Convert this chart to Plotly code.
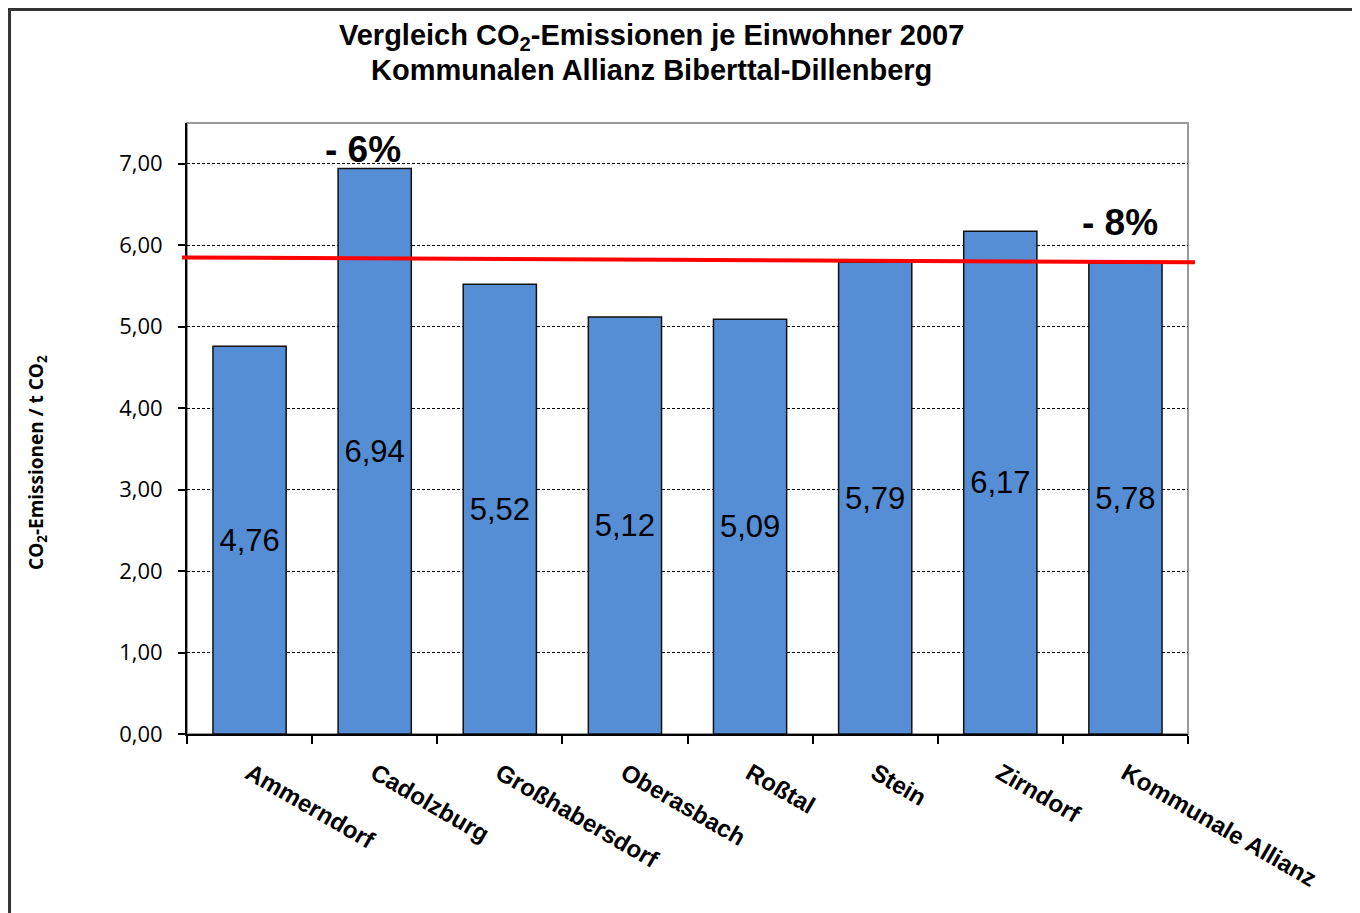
"""Vergleich CO2-Emissionen je Einwohner 2007 - Plotly recreation."""

import plotly.graph_objects as go

# data
municipalities = [
    "Ammerndorf",
    "Cadolzburg",
    "Großhabersdorf",
    "Oberasbach",
    "Roßtal",
    "Stein",
    "Zirndorf",
    "Kommunale Allianz",
]
emissions_per_capita = [4.76, 6.94, 5.52, 5.12, 5.09, 5.79, 6.17, 5.78]

# red reference line (t CO2 at left and right end)
reference_start = 5.85
reference_end = 5.79

# reduction callouts
callout_labels = ["- 6%", "- 8%"]
callout_categories = ["Cadolzburg", "Kommunale Allianz"]
callout_values = [7.18, 6.28]

title_lines = [
    "Vergleich CO<sub>2</sub>-Emissionen je Einwohner 2007",
    "Kommunalen Allianz Biberttal-Dillenberg",
]

BAR_COLOR = "#558ED5"
TEXT_FONT = "Liberation Sans, Arial, sans-serif"
AXIS_FONT = "Open Sans, Noto Sans, sans-serif"

fig = go.Figure()
fig.add_bar(
    x=municipalities,
    y=emissions_per_capita,
    width=0.585,
    marker={"color": BAR_COLOR, "line": {"color": "#111111", "width": 1.5}},
    text=[f"{v:.2f}".replace(".", ",") for v in emissions_per_capita],
    textposition="inside",
    insidetextanchor="middle",
    textangle=0,
    textfont={"family": TEXT_FONT, "size": 31, "color": "#000000"},
    hoverinfo="skip",
)

# plot-area frame (top/right gray) and outer chart border
fig.add_shape(type="rect", xref="paper", yref="paper", x0=0, x1=1, y0=0, y1=1,
              line={"color": "#9A9A9A", "width": 2}, layer="below")
fig.add_shape(type="rect", xref="paper", yref="paper", x0=-0.1773, x1=1.3, y0=-0.5, y1=1.1858,
              line={"color": "#333333", "width": 3}, layer="below")

# red reference line, extending slightly past the plot area
fig.add_shape(type="line", xref="paper", yref="y", x0=-0.005, x1=1.007,
              y0=reference_start, y1=reference_end,
              line={"color": "#FF0000", "width": 4}, layer="above")

for label, cat, val, shift in zip(callout_labels, callout_categories, callout_values, [-12, -5]):
    fig.add_annotation(x=cat, y=val, text=f"<b>{label}</b>", showarrow=False,
                       xshift=shift, font={"family": TEXT_FONT, "size": 37, "color": "#000000"})

# two-line chart title, placed as annotations for tighter line spacing
for line_text, ypos in zip(title_lines, [1.1408, 1.0867]):
    fig.add_annotation(
        x=0.4645, y=ypos, xref="paper", yref="paper", showarrow=False,
        xanchor="center", yanchor="middle",
        text=f"<b>{line_text}</b>",
        font={"family": TEXT_FONT, "size": 29, "color": "#000000"},
    )

fig.add_annotation(
    x=-0.15, y=0.445, xref="paper", yref="paper", textangle=-90, showarrow=False,
    xanchor="center", yanchor="middle",
    text="<b>CO<sub>2</sub>-Emissionen / t CO<sub>2</sub></b>",
    font={"family": AXIS_FONT, "size": 19, "color": "#000000"},
)

# page body adds an 8px offset, so margins are shifted to compensate
fig.update_layout(
    width=1360,
    height=913,
    paper_bgcolor="white",
    plot_bgcolor="white",
    separators=", ",
    showlegend=False,
    margin={"l": 179, "r": 180, "t": 115, "b": 187, "autoexpand": False},
)
fig.update_xaxes(
    showline=True,
    linecolor="#000000",
    linewidth=2,
    ticks="outside",
    tickson="boundaries",
    ticklen=8,
    tickcolor="#000000",
    tickwidth=1.5,
    tickangle=30,
    ticklabelstandoff=14,
    tickfont={"family": TEXT_FONT, "size": 24, "color": "#000000", "weight": "bold"},
    showgrid=False,
    fixedrange=True,
)
fig.update_yaxes(
    range=[0, 7.5],
    dtick=1,
    tick0=0,
    tickformat=".2f",
    showline=True,
    linecolor="#000000",
    linewidth=2,
    ticks="outside",
    ticklen=7,
    tickcolor="#000000",
    tickwidth=1.5,
    ticklabelstandoff=11,
    tickfont={"family": AXIS_FONT, "size": 22, "color": "#000000"},
    showgrid=True,
    gridcolor="#000000",
    gridwidth=1,
    griddash="3px,2px",
    zeroline=False,
    fixedrange=True,
)

fig.write_html("out.html")
